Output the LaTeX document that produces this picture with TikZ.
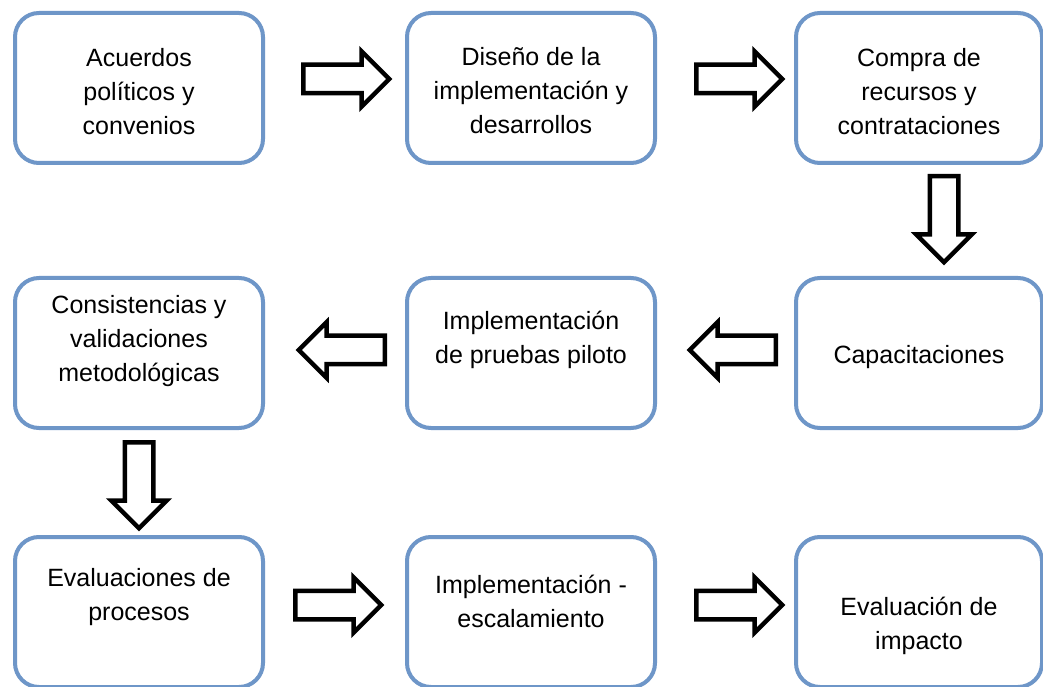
\documentclass[tikz,border=0pt]{standalone}
\usepackage{fontspec}
\setmainfont{Liberation Sans}
\usetikzlibrary{shapes.arrows,calc}
\definecolor{boxblue}{RGB}{110,150,200}

\begin{document}
\begin{tikzpicture}[x=1pt,y=1pt]
	\tikzstyle{every node}=[font=\fontsize{25}{34}\selectfont]
	\tikzstyle{stepbox}=[draw=boxblue, line width=4pt, rounded corners=24pt,
	fill=white, minimum width=248pt, minimum height=150pt, inner sep=0pt]
	\tikzstyle{steptext}=[align=center, inner sep=0pt]
	\tikzstyle{fatarrow}=[single arrow, draw=black, line width=4.5pt, fill=white,
	minimum height=86pt, inner sep=12pt,
	single arrow head extend=13.5pt, single arrow tip angle=90, anchor=tail]
	\fill[white] (0,0) rectangle (1043,686);
	\useasboundingbox (0,0) rectangle (1043,686);
	% first row
	\node[stepbox] (acuerdos) at (139,598) {};
	\node[stepbox] (diseno) at (531,598) {};
	\node[stepbox, minimum width=246pt] (compra) at (919,598) {};
	\node[steptext] (acuerdos-txt) at ($(acuerdos)+(0,-4)$) {Acuerdos\\políticos y\\convenios};
	\node[steptext] (diseno-txt) at ($(diseno)+(0,-3)$) {Diseño de la\\implementación y\\desarrollos};
	\node[steptext] (compra-txt) at ($(compra)+(0,-4)$) {Compra de\\recursos y\\contrataciones};
	% second row
	\node[stepbox] (consist) at (139,333) {};
	\node[stepbox] (pruebas) at (531,333) {};
	\node[stepbox, minimum width=246pt] (capac) at (919,333) {};
	\node[steptext] (consist-txt) at ($(consist)+(0,12)$) {Consistencias y\\validaciones\\metodológicas};
	\node[steptext] (pruebas-txt) at ($(pruebas)+(0,13)$) {Implementación\\de pruebas piloto};
	\node[steptext] (capac-txt) at ($(capac)+(0,-4)$) {Capacitaciones};
	% third row
	\node[stepbox] (evalproc) at (139,74) {};
	\node[stepbox] (escal) at (531,74) {};
	\node[stepbox, minimum width=246pt] (impacto) at (919,74) {};
	\node[steptext] (evalproc-txt) at ($(evalproc)+(0,15)$) {Evaluaciones de\\procesos};
	\node[steptext] (escal-txt) at ($(escal)+(0,11)$) {Implementación -\\escalamiento};
	\node[steptext] (impacto-txt) at ($(impacto)+(0,-14)$) {Evaluación de\\impacto};
	% arrows
	\node[fatarrow] (arrA) at ($(acuerdos.east)+(36,9)$) {};
	\node[fatarrow] (arrB) at ($(diseno.east)+(37,9)$) {};
	\node[fatarrow, shape border rotate=270] (arrC) at ($(compra.south)+(25,-9)$) {};
	\node[fatarrow, shape border rotate=180] (arrD) at ($(capac.west)+(-16,3)$) {};
	\node[fatarrow, shape border rotate=180] (arrE) at ($(pruebas.west)+(-18,3)$) {};
	\node[fatarrow, shape border rotate=270] (arrF) at ($(consist.south)+(0,-10)$) {};
	\node[fatarrow] (arrG) at ($(evalproc.east)+(28,7)$) {};
	\node[fatarrow] (arrH) at ($(escal.east)+(37,7)$) {};
\end{tikzpicture}
\end{document}
